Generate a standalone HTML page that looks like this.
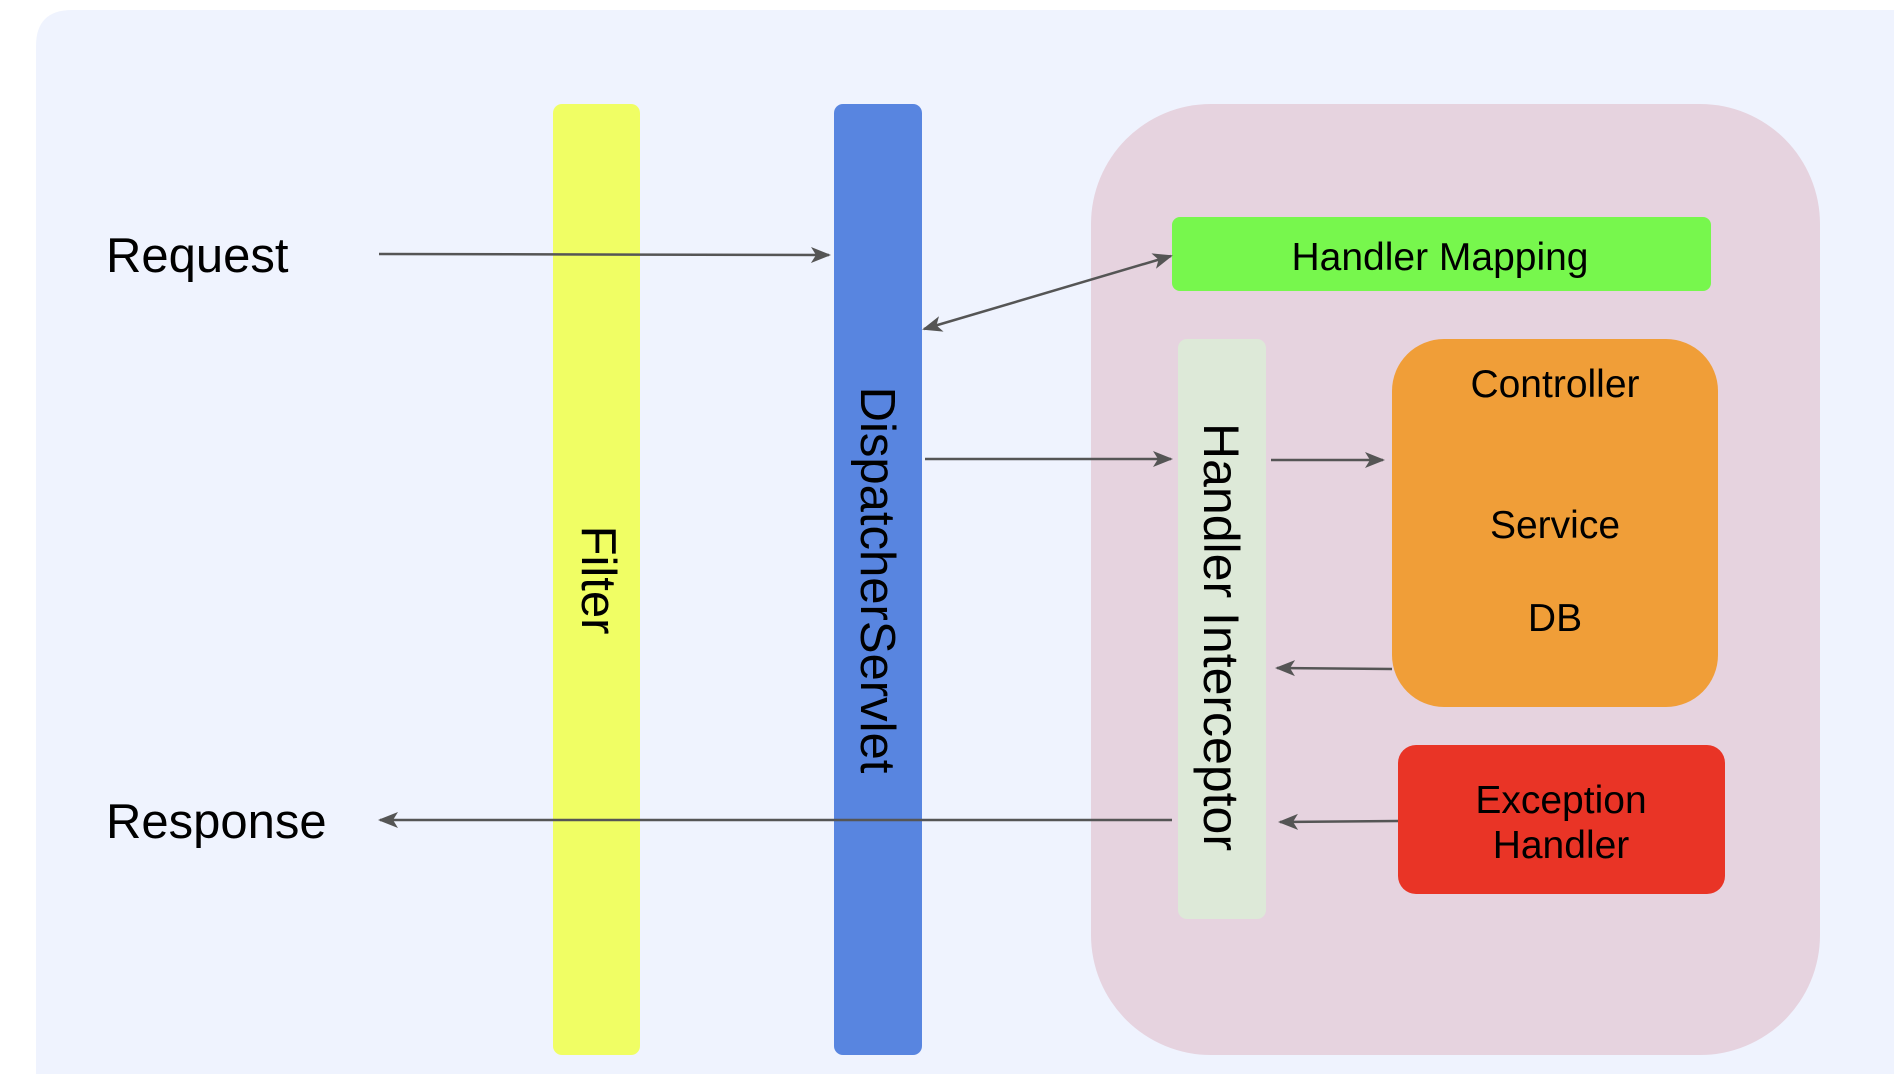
<!DOCTYPE html>
<html><head><meta charset="utf-8"><style>
html,body{margin:0;padding:0;background:#fff;}
svg{display:block;}
text{font-family:"Liberation Sans",sans-serif;fill:#000;}
</style></head><body>
<svg width="1894" height="1074" viewBox="0 0 1894 1074" xmlns="http://www.w3.org/2000/svg">
<defs>
<marker id="b" markerWidth="20" markerHeight="20" refX="18" refY="10" orient="auto-start-reverse" markerUnits="userSpaceOnUse" viewBox="0 0 20 20">
<path d="M0,2 L20,10 L0,18 L5,10 z" fill="#555"/>
</marker>
</defs>
<path d="M36,46 Q36,10 72,10 L1894,10 L1894,1074 L36,1074 Z" fill="#eff3fe"/>
<rect x="553" y="104" width="87" height="951" rx="9" fill="#f0fe64"/>
<rect x="834" y="104" width="88" height="951" rx="9" fill="#5885e0"/>
<rect x="1091" y="104" width="729" height="951" rx="120" fill="#e6d3df"/>
<rect x="1172" y="217" width="539" height="74" rx="8" fill="#77f74d"/>
<rect x="1178" y="339" width="88" height="580" rx="9" fill="#dde9d8"/>
<rect x="1392" y="339" width="326" height="368" rx="52" fill="#f09e38"/>
<rect x="1398" y="745" width="327" height="149" rx="18" fill="#e93426"/>

<text x="106" y="272" font-size="49">Request</text>
<text x="106" y="838" font-size="49">Response</text>
<text x="1440" y="270" font-size="39" text-anchor="middle">Handler Mapping</text>
<text x="1555" y="397" font-size="39" text-anchor="middle">Controller</text>
<text x="1555" y="538" font-size="39" text-anchor="middle">Service</text>
<text x="1555" y="631" font-size="39" text-anchor="middle">DB</text>
<text x="1561" y="813" font-size="39" text-anchor="middle">Exception</text>
<text x="1561" y="858" font-size="39" text-anchor="middle">Handler</text>
<text transform="translate(582,580) rotate(90)" font-size="49" text-anchor="middle">Filter</text>
<text transform="translate(861,580) rotate(90)" font-size="49" text-anchor="middle">DispatcherServlet</text>
<text transform="translate(1204,637) rotate(90)" font-size="50" text-anchor="middle">Handler Interceptor</text>

<g stroke="#555" stroke-width="2.5" fill="none">
<line x1="379" y1="254" x2="829" y2="255" marker-end="url(#b)"/>
<line x1="924" y1="329" x2="1171" y2="256" marker-start="url(#b)" marker-end="url(#b)"/>
<line x1="925" y1="459" x2="1171" y2="459" marker-end="url(#b)"/>
<line x1="1271" y1="460" x2="1383" y2="460" marker-end="url(#b)"/>
<line x1="1392" y1="669" x2="1277" y2="668" marker-end="url(#b)"/>
<line x1="1398" y1="821" x2="1280" y2="822" marker-end="url(#b)"/>
<line x1="1172" y1="820" x2="380" y2="820" marker-end="url(#b)"/>
</g>
</svg>
</body></html>
